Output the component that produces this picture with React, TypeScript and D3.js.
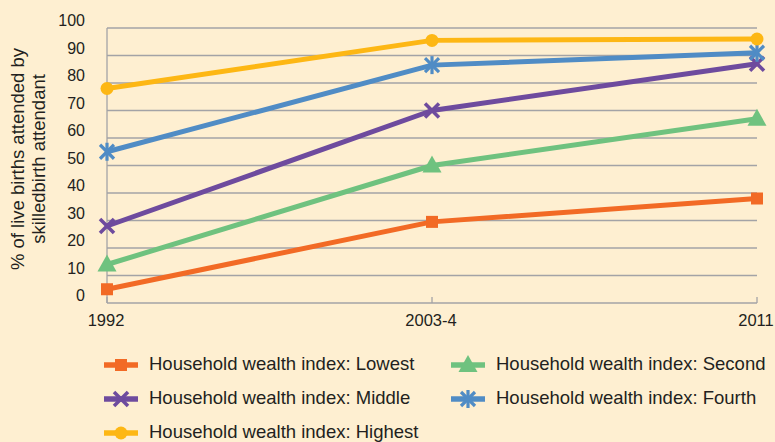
import React from "react";
import * as d3 from "d3";

const years = ["1992", "2003-4", "2011"];
const yTicks = [0, 10, 20, 30, 40, 50, 60, 70, 80, 90, 100];

const lowest = [5, 29.5, 38];
const second = [14, 50, 67];
const middle = [28, 70, 87];
const fourth = [55, 86.5, 91];
const highest = [78, 95.5, 96];

const seriesNames = [
  "Household wealth index: Lowest",
  "Household wealth index: Second",
  "Household wealth index: Middle",
  "Household wealth index: Fourth",
  "Household wealth index: Highest",
];

const series = [
  { name: seriesNames[0], values: lowest, color: "#F26A25", marker: "square" },
  { name: seriesNames[1], values: second, color: "#6FC27F", marker: "triangle" },
  { name: seriesNames[2], values: middle, color: "#6E4B9E", marker: "x" },
  { name: seriesNames[3], values: fourth, color: "#508CC5", marker: "star" },
  { name: seriesNames[4], values: highest, color: "#FDB714", marker: "circle" },
];

const W = 775;
const H = 442;
const left = 107;
const right = 757;
const top = 28;
const bottom = 303;
const font = "'Liberation Sans', Arial, sans-serif";
const ink = "#231F20";

function Marker({ type, x, y, color }) {
  if (type === "square")
    return <rect x={x - 6} y={y - 6} width={12} height={12} fill={color} />;
  if (type === "circle") return <circle cx={x} cy={y} r={6.5} fill={color} />;
  if (type === "triangle")
    return (
      <path
        d={`M${x},${y - 10} L${x + 9.5},${y + 7} L${x - 9.5},${y + 7} Z`}
        fill={color}
      />
    );
  if (type === "x")
    return (
      <g stroke={color} strokeWidth={3.5}>
        <line x1={x - 7} y1={y - 7} x2={x + 7} y2={y + 7} />
        <line x1={x - 7} y1={y + 7} x2={x + 7} y2={y - 7} />
      </g>
    );
  // asterisk
  return (
    <g stroke={color} strokeWidth={3.2}>
      <line x1={x - 7} y1={y - 7} x2={x + 7} y2={y + 7} />
      <line x1={x - 7} y1={y + 7} x2={x + 7} y2={y - 7} />
      <line x1={x} y1={y - 9} x2={x} y2={y + 9} />
    </g>
  );
}

export default function App() {
  const x = d3.scalePoint().domain(years).range([left, right]).padding(0);
  const y = d3.scaleLinear().domain([0, 100]).range([bottom, top]);
  const line = d3
    .line<number>()
    .x((d, i) => x(years[i]))
    .y((d) => y(d));

  const legendPos = [
    [104, 365],
    [451, 365],
    [104, 399],
    [451, 399],
    [104, 433],
  ];

  return (
    <svg
      width={W}
      height={H}
      style={{ position: "absolute", left: 0, top: 0, display: "block" }}
      fontFamily={font}
    >
      <rect width={W} height={H} fill="#FEEFD1" />
      {yTicks.map((t) => (
        <g key={t}>
          <line
            x1={left}
            x2={right}
            y1={y(t)}
            y2={y(t)}
            stroke="#A3A3A6"
            strokeWidth={1.3}
          />
          <text
            x={85}
            y={y(t) - 6}
            textAnchor="end"
            dominantBaseline="middle"
            fontSize={16}
            fill={ink}
          >
            {t}
          </text>
        </g>
      ))}
      <line x1={left} x2={left} y1={top} y2={bottom} stroke="#A3A3A6" strokeWidth={1.3} />
      {years.map((yr) => (
        <g key={yr}>
          <line
            x1={x(yr)}
            x2={x(yr)}
            y1={bottom - 6}
            y2={bottom}
            stroke="#A3A3A6"
            strokeWidth={1.3}
          />
          <text
            x={x(yr) - 1}
            y={322}
            textAnchor="middle"
            dominantBaseline="middle"
            fontSize={16.5}
            fill={ink}
          >
            {yr}
          </text>
        </g>
      ))}
      <g transform="translate(19,159) rotate(-90)" fontSize={18.5} fill={ink}>
        <text x={0} y={0} textAnchor="middle" dominantBaseline="middle">
          % of live births attended by
        </text>
        <text x={0} y={21} textAnchor="middle" dominantBaseline="middle">
          skilledbirth attendant
        </text>
      </g>
      {series.map((s) => (
        <g key={s.name}>
          <path
            d={line(s.values)}
            fill="none"
            stroke={s.color}
            strokeWidth={5}
            strokeLinejoin="round"
          />
          {s.values.map((v, i) => (
            <Marker key={i} type={s.marker} x={x(years[i])} y={y(v)} color={s.color} />
          ))}
        </g>
      ))}
      {series.map((s, i) => {
        const [lx, ly] = legendPos[i];
        return (
          <g key={s.name}>
            <line
              x1={lx}
              x2={lx + 34}
              y1={ly}
              y2={ly}
              stroke={s.color}
              strokeWidth={5.5}
            />
            <Marker type={s.marker} x={lx + 17} y={ly} color={s.color} />
            <text
              x={lx + 45}
              y={ly}
              dominantBaseline="middle"
              fontSize={18.5}
              fill={ink}
            >
              {s.name}
            </text>
          </g>
        );
      })}
    </svg>
  );
}
